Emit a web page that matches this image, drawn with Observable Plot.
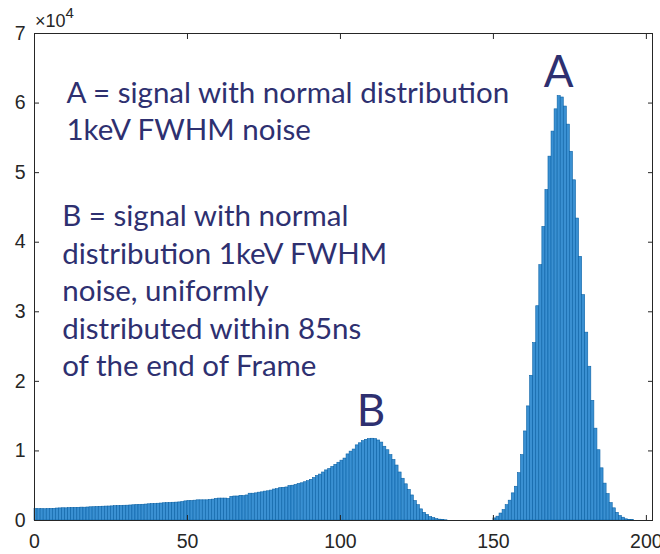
<!DOCTYPE html>
<html>
<head>
<meta charset="utf-8">
<script src="https://cdn.jsdelivr.net/npm/d3@7"></script>
<script src="https://cdn.jsdelivr.net/npm/@observablehq/plot@0.6"></script>
<style>
  html, body { margin: 0; padding: 0; background: #fff; overflow: hidden; }
  #chart { width: 660px; height: 554px; }
</style>
</head>
<body>
<div id="chart"></div>
<script>
// Histogram bin width (energy units) and counts per bin
const binWidth = 1;
const counts = [
  // 0-49 (low-energy tail of B)
  1650,1630,1640,1620,1650,1670,1680,1720,1740,1760,
  1750,1780,1800,1810,1820,1850,1840,1870,1900,1910,
  1930,1960,1980,2000,2010,2030,2060,2080,2100,2120,
  2130,2160,2190,2220,2240,2260,2290,2330,2360,2380,
  2410,2440,2480,2500,2520,2550,2570,2600,2650,2750,
  // 50-96
  2800,2800,2850,2900,2900,2900,2900,2950,3000,3100,
  3150,3150,3150,3100,3400,3450,3450,3550,3500,3600,
  3850,3850,3900,4000,4050,4150,4200,4300,4450,4500,
  4650,4700,4750,4950,5000,5100,5250,5350,5500,5650,
  5850,6100,6400,6600,6900,7200,7400,
  // 97-134 (peak B)
  7700,8000,8300,8600,8900,9500,9900,10200,10800,11100,
  11400,11600,11700,11750,11700,11500,11200,10600,10100,9400,
  8700,7900,6900,6000,5200,4400,3600,2800,2200,1600,
  1100,800,500,350,200,120,60,30,
  // 135-149 (gap)
  0,0,0,0,0,0,0,0,0,0,0,0,0,0,0,
  // 150-195 (peak A)
  300,550,1000,1500,2200,2850,3900,4850,6800,9400,
  12800,16400,20800,25500,30800,36700,42200,47500,52300,55900,
  59100,61000,60800,59500,56900,53000,48900,43400,37900,32400,
  27000,22100,17200,13200,10100,7500,5300,3800,2500,1750,
  1100,650,400,170,100,50
];
const xTicks = [0, 50, 100, 150, 200];
const yTicks = [0, 10000, 20000, 30000, 40000, 50000, 60000, 70000];
const yExponent = 4;
const peakLabels = ["A", "B"];
const peakLabelX = [171.3, 110];
const peakLabelY = [64400, 15650];
const noteA = "A = signal with normal distribution\n1keV FWHM noise";
const noteB = "B = signal with normal\ndistribution 1keV FWHM\nnoise, uniformly\ndistributed within 85ns\nof the end of Frame";

const bins = counts.map((c, i) => ({x1: i * binWidth, x2: (i + 1) * binWidth, count: c}));

const axisColor = "#262626";
const textColor = "#2e3070";

const chart = Plot.plot({
  width: 660,
  height: 554,
  marginLeft: 34,
  marginRight: 8,
  marginTop: 33,
  marginBottom: 34,
  style: {background: "#fff", fontFamily: "'Liberation Sans', Arial, sans-serif", fontSize: "19px", overflow: "visible"},
  x: {domain: [0, 202], axis: null},
  y: {domain: [0, 70000], axis: null},
  marks: [
    Plot.rectY(bins, {x1: "x1", x2: "x2", y: "count", fill: "#3a90d2", stroke: "#0b62a6", strokeWidth: 0.6, inset: 0}),
    // tick labels
    Plot.axisX({ticks: xTicks, anchor: "bottom", label: null, tickSize: 0, tickPadding: 14, fontSize: 19.5, color: axisColor, tickFormat: d => d}),
    Plot.axisY({ticks: yTicks, anchor: "left", label: null, tickSize: 0, tickPadding: 9, fontSize: 19.5, color: axisColor, tickFormat: d => d / 10 ** yExponent}),
    // inward ticks on all four sides
    Plot.axisX({ticks: xTicks, anchor: "bottom", label: null, tickSize: 5, dy: -5, tickFormat: () => "", stroke: axisColor}),
    Plot.axisX({ticks: xTicks, anchor: "top", label: null, tickSize: 5, dy: 5, tickFormat: () => "", stroke: axisColor}),
    Plot.axisY({ticks: yTicks, anchor: "left", label: null, tickSize: 5, dx: 5, tickFormat: () => "", stroke: axisColor}),
    Plot.axisY({ticks: yTicks, anchor: "right", label: null, tickSize: 5, dx: -5, tickFormat: () => "", stroke: axisColor}),
    Plot.frame({stroke: axisColor, strokeWidth: 1}),
    // annotations
    Plot.text([noteA], {x: 10.46, y: 63886, text: d => d, textAnchor: "start", lineAnchor: "top", lineHeight: 1.27, fontSize: 29.5, fontFamily: "Lato, sans-serif", fill: textColor}),
    Plot.text([noteB], {x: 9.06, y: 46107, text: d => d, textAnchor: "start", lineAnchor: "top", lineHeight: 1.27, fontSize: 29.5, fontFamily: "Lato, sans-serif", fill: textColor}),
    Plot.text(peakLabels, {x: (d, i) => peakLabelX[i], y: (d, i) => peakLabelY[i], text: d => d, fontSize: 44, fontFamily: "Lato, sans-serif", fill: textColor})
  ]
});

// exponent label "×10^4" above the y axis
const svg = d3.select(chart);
const exp = svg.append("text")
  .attr("x", 35).attr("y", 27)
  .attr("text-anchor", "start")
  .attr("fill", axisColor)
  .attr("font-family", "'Liberation Sans', Arial, sans-serif")
  .style("font-size", "18px");
exp.append("tspan").text("\u00d710");
exp.append("tspan").attr("dy", -9).style("font-size", "15px").text(String(yExponent));

document.getElementById("chart").appendChild(chart);
</script>
</body>
</html>
